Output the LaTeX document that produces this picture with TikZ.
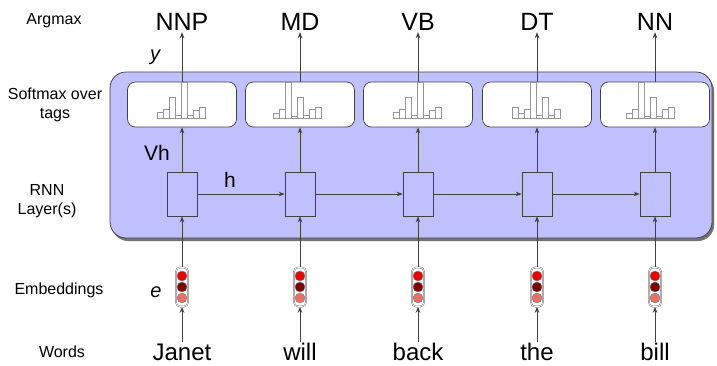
\documentclass[tikz,border=0pt]{standalone}
\usepackage{fontspec}
\setmainfont{Liberation Sans}
\usetikzlibrary{arrows.meta,shadows}
\definecolor{rnnblue}{RGB}{192,192,255}
\definecolor{edgegray}{RGB}{65,65,65}
\definecolor{bargray}{RGB}{150,150,150}
\definecolor{lightred}{RGB}{235,0,0}
\definecolor{darkred}{RGB}{125,0,0}
\definecolor{salmon}{RGB}{232,112,100}
\tikzset{
  layerbox/.style={draw=edgegray, line width=0.8pt, fill=rnnblue, rounded corners=16pt,
    minimum width=602pt, minimum height=166pt, inner sep=0pt,
    drop shadow={shadow xshift=2pt, shadow yshift=-3pt, opacity=0.55, fill=black}},
  smbox/.style={draw=edgegray, line width=0.7pt, fill=white, rounded corners=8pt,
    minimum width=109pt, minimum height=45pt, inner sep=0pt},
  rnnbox/.style={draw=edgegray, line width=0.7pt, fill=rnnblue, minimum width=30pt,
    minimum height=44pt, inner sep=0pt},
  embbox/.style={draw=gray, double=white, double distance=0.6pt, line width=0.5pt,
    rounded corners=4pt, minimum width=12pt, minimum height=39pt, inner sep=0pt},
  bar/.style={draw=bargray, line width=0.5pt, fill=white},
  conn/.style={draw=edgegray, line width=0.7pt},
  arr/.style={conn, -{Stealth[length=6pt,width=4.5pt]}},
  tagtext/.style={font=\fontsize{25}{27}\selectfont, anchor=base, inner sep=2pt, text height=18pt, text depth=0pt},
  wordtext/.style={font=\fontsize{24}{26}\selectfont, anchor=base, inner sep=1pt, text height=17pt, text depth=0pt},
  sidelabel/.style={font=\fontsize{16}{19}\selectfont, align=center, inner sep=0pt},
  varlabel/.style={font=\fontsize{21}{23}\selectfont, inner sep=0pt},
  itlabel/.style={font=\fontsize{20}{22}\selectfont\itshape, inner sep=0pt}
}
\begin{document}
\begin{tikzpicture}[x=1pt,y=-1pt]
\useasboundingbox (0,0) rectangle (717,365);

% big layer box
\node[layerbox] (layer) at (411,155) {};

% side labels
\node[sidelabel] (lArg) at (54,21) {Argmax};
\node[sidelabel] (lSoft) at (55,105) {Softmax over\\tags};
\node[sidelabel] (lRnn) at (47,201) {RNN\\Layer(s)};
\node[sidelabel] (lEmb) at (59,290) {Embeddings};
\node[sidelabel] (lWords) at (62,352) {Words};

% variable labels
\node[itlabel] (ly) at (155,57) {y};
\node[varlabel] (lVh) at (157,153) {Vh};
\node[varlabel] (lh) at (230,180) {h};
\node[itlabel] (le) at (156,292) {e};

% columns
\foreach \i/\x/\tag/\word/\off/\hs in {
  1/182/NNP/Janet/-25/{6,9,21,3,36,3,8,11},
  2/300/MD/will/-27/{5,9,36,2,21,3,9,11},
  3/418/VB/back/-25/{6,9,21,3,36,3,8,11},
  4/537/DT/the/-25/{11,5,9,36,3,21,3,9},
  5/655/NN/bill/-29/{5,9,36,2,21,2,9,11}} {
  \node[smbox] (sm\i) at (\x,104.5) {};
  \foreach \h [count=\k] in \hs {
    \draw[bar] ({\x+\off+6*(\k-1)},118) rectangle ++(6,-\h);
  }
  \node[rnnbox] (rnn\i) at (\x,194) {};
  \node[embbox] (emb\i) at (\x,287) {};
  \fill[lightred, draw=gray, line width=0.4pt] (\x,276) circle (5pt);
  \fill[darkred, draw=gray, line width=0.4pt] (\x,287) circle (5pt);
  \fill[salmon, draw=gray, line width=0.4pt] (\x,298) circle (5pt);
  \node[tagtext] (t\i) at (\x,30) {\tag};
  \node[wordtext] (w\i) at (\x,360) {\word};
  \draw[arr] (w\i.north) -- (emb\i.south);
  \draw[arr] (emb\i.north) -- (rnn\i.south);
  \draw[arr] (rnn\i.north) -- (sm\i.south);
  \draw[arr] (sm\i.north) -- (t\i.south);
}

% recurrent connections
\foreach \a/\b in {1/2,2/3,3/4,4/5} {
  \draw[arr] (rnn\a.east) -- (rnn\b.west);
}
\end{tikzpicture}
\end{document}
